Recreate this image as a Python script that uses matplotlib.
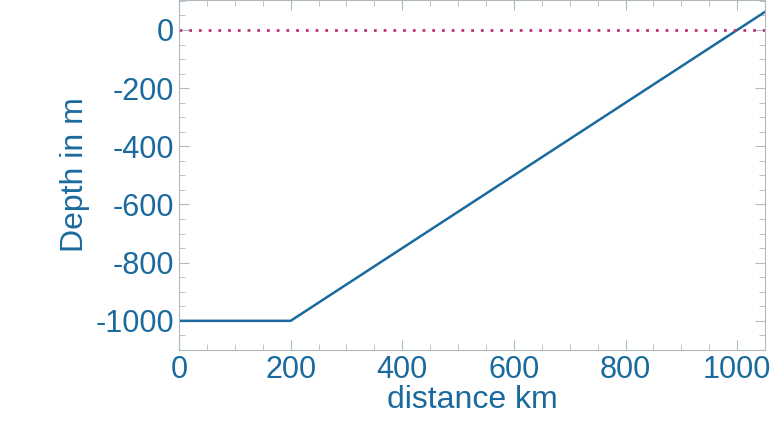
import matplotlib.pyplot as plt
from matplotlib.ticker import MultipleLocator

plt.rcParams["font.family"] = ["Liberation Sans", "DejaVu Sans"]
plt.rcParams["axes.unicode_minus"] = False

distance = [0, 200, 1050]
depth = [-1000, -1000, 62.5]
sea_level = [0, 0]
sea_x = [0, 1050]

blue = "#1a6a9e"
fig = plt.figure(figsize=(7.83, 4.32), dpi=100)
ax = fig.add_axes([0.2286, 0.19, 0.7486, 0.81])
ax.plot(distance, depth, color=blue, lw=1.8)
ax.plot(sea_x, sea_level, color="#c0307a", lw=2, linestyle=(0, (1, 2.5)))
ax.set_xlim(0, 1050)
ax.set_ylim(-1100, 103)
ax.set_xticks([0, 200, 400, 600, 800, 1000])
ax.set_yticks([0, -200, -400, -600, -800, -1000])
ax.xaxis.set_minor_locator(MultipleLocator(50))
ax.yaxis.set_minor_locator(MultipleLocator(50))
for s in ax.spines.values():
    s.set_color("#b0b8c0")
ax.tick_params(which="both", direction="in", colors="#b0b8c0", labelcolor=blue,
               labelsize=22, top=True, right=True)
ax.tick_params(which="major", length=7)
ax.tick_params(which="minor", length=4)
ax.set_xlabel("distance km", color=blue, fontsize=23, labelpad=0)
ax.set_ylabel("Depth in m", color=blue, fontsize=23)
fig.savefig("out.png")
